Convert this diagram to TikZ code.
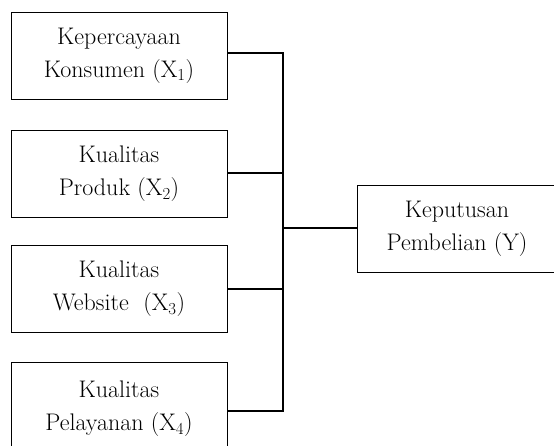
\documentclass[tikz,border=0pt]{standalone}
\begin{document}
\begin{tikzpicture}[x=1pt, y=-1pt, line width=1.6pt,
    varbox/.style={draw, line width=1pt, minimum width=216pt, minimum height=87pt,
        align=center, inner sep=0pt, font=\fontsize{24}{33}\selectfont}]
    \useasboundingbox (0,0) rectangle (554,445);

    % Independent variables
    \node[varbox] (x1) at (119, 55.5) {Kepercayaan\\Konsumen (X\textsubscript{1})};
    \node[varbox] (x2) at (119, 174) {Kualitas\\Produk (X\textsubscript{2})};
    \node[varbox] (x3) at (119, 289) {Kualitas\\Website~ (X\textsubscript{3})};
    \node[varbox, minimum height=94pt] (x4) at (119, 409) {Kualitas\\Pelayanan (X\textsubscript{4})};

    % Dependent variable
    \node[varbox, minimum width=200pt] (y) at (457, 228.5) {Keputusan\\Pembelian (Y)};

    % Connectors
    \coordinate (bus) at (283, 228);
    \draw ([yshift=2.5pt]x1.east) -| (bus);
    \draw ([yshift=-2pt]x4.east) -| (bus);
    \draw ([yshift=1pt]x2.east) -- ([yshift=1pt]x2.east -| bus);
    \draw (x3.east) -- (x3.east -| bus);
    \draw (bus) -- (y.west |- bus);
\end{tikzpicture}
\end{document}
